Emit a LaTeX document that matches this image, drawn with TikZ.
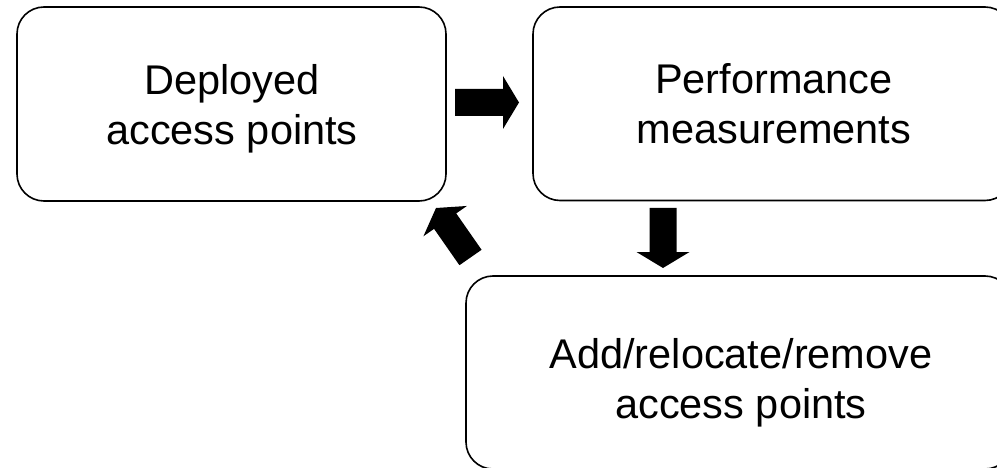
\documentclass[tikz,border=0pt]{standalone}
\usepackage{fontspec}
\setmainfont{Liberation Sans}
\usetikzlibrary{calc}

% Block arrow from tail coordinate #1 to tip coordinate #2
\newcommand\blockarrow[2]{%
  \coordinate (neck) at ($(#2)!16pt!(#1)$);
  \fill[black]
    ($(#1)!13.5pt!90:(#2)$) --
    ($(neck)!13.5pt!-90:(#1)$) --
    ($(neck)!26.5pt!-90:(#1)$) --
    (#2) --
    ($(neck)!26.5pt!90:(#1)$) --
    ($(neck)!13.5pt!90:(#1)$) --
    ($(#1)!13.5pt!-90:(#2)$) -- cycle;
}

\begin{document}
\begin{tikzpicture}[x=1pt,y=-1pt,
  box/.style={draw=black, line width=1.6pt, rounded corners=27pt,
    rectangle, inner sep=0pt},
  lbl/.style={align=center, inner sep=0pt, anchor=base,
    font=\fontsize{41.5}{50}\selectfont}]
  \path[use as bounding box] (0,0) rectangle (997,468);
  \clip (0,0) rectangle (997,468);

  % the three stages
  \node[box, minimum width=429pt, minimum height=194pt] (dep) at (231.5,104) {};
  \node[box, minimum width=479pt, minimum height=193.5pt] (perf) at (772.5,103.75) {};
  \node[box, minimum width=546pt, minimum height=193pt] (chg) at (739,372.5) {};

  % labels, placed by the baseline of their last line
  \node[lbl] (deplbl) at (232,145) {Deployed\\access points};
  \node[lbl] (perflbl) at (774,144) {Performance\\measurements};
  \node[lbl] (chglbl) at (741,418) {Add/relocate/remove\\access points};

  % arrows between the stages
  \coordinate (r0) at (455,102.5);
  \coordinate (r1) at (519,102.5);
  \coordinate (d0) at (663,208);
  \coordinate (d1) at (663,268);
  \coordinate (u0) at (470.5,257.5);
  \coordinate (u1) at (436,208);
  \blockarrow{r0}{r1}
  \blockarrow{d0}{d1}
  \blockarrow{u0}{u1}
\end{tikzpicture}
\end{document}
